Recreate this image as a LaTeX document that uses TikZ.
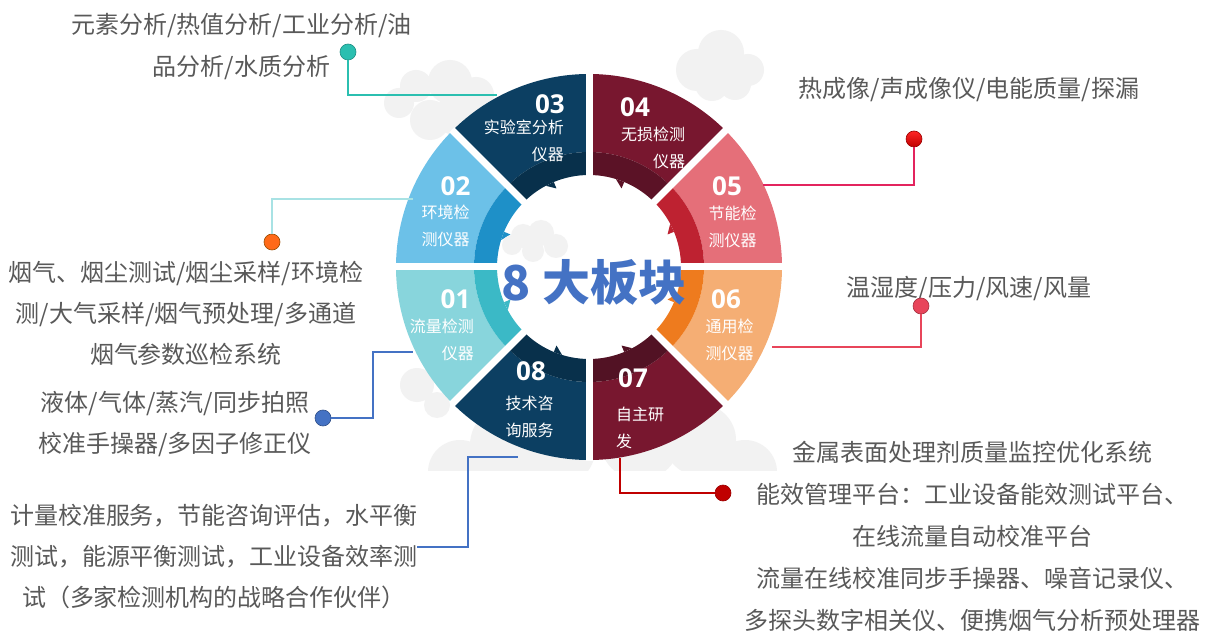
\documentclass[tikz,border=0pt]{standalone}
\usepackage{fontspec}
\setmainfont{Noto Sans CJK SC}
\newfontfamily\numfont{Open Sans}
\usepackage{tikz}
\definecolor{txtgray}{HTML}{595959}
\definecolor{cloudgray}{HTML}{F2F2F2}
\definecolor{ctrblue}{HTML}{4472C4}
\definecolor{c01o}{HTML}{88D5DC}\definecolor{c01i}{HTML}{3BB9C6}
\definecolor{c02o}{HTML}{6CC1E8}\definecolor{c02i}{HTML}{1E90C8}
\definecolor{c03o}{HTML}{0C3F62}\definecolor{c03i}{HTML}{08304B}
\definecolor{c04o}{HTML}{78172F}\definecolor{c04i}{HTML}{5B1226}
\definecolor{c05o}{HTML}{E56F79}\definecolor{c05i}{HTML}{BE2231}
\definecolor{c06o}{HTML}{F5AE74}\definecolor{c06i}{HTML}{EE7B1E}
\definecolor{c07o}{HTML}{78172F}\definecolor{c07i}{HTML}{521224}
\definecolor{c08o}{HTML}{0C3F62}\definecolor{c08i}{HTML}{08304B}
\definecolor{lnteal}{HTML}{2BBFB0}
\definecolor{lnpale}{HTML}{A8E2E4}
\definecolor{lnblue}{HTML}{4472C4}
\definecolor{lncrim}{HTML}{E3245E}
\definecolor{lnrose}{HTML}{E8455A}
\definecolor{lnred}{HTML}{C00000}
\tikzset{
  seglab/.style={text=white, inner sep=0pt, font=\fontsize{16}{27}\selectfont},
  segnum/.style={text=white, inner sep=0pt, font=\numfont\bfseries\fontsize{26}{26}\selectfont},
  desc/.style={text=txtgray, inner sep=0pt, align=center},
  bullet/.style={circle, minimum size=16pt, inner sep=0pt, line width=0.6pt},
  leader/.style={line width=1.1pt},
  cloudfill/.style={fill=cloudgray}
}
\begin{document}
\begin{tikzpicture}[x=1pt, y=-1pt]
\useasboundingbox (0,0) rectangle (1213,644);
\fill[white] (0,0) rectangle (1213,644);
% ---- background clouds ----
\foreach \cx/\cy/\r in {721/53/23, 697/70/21, 748/70/16, 712/84/17, 735/84/16,
  450/82/22, 416/86/16, 399/103/15, 430/120/20, 476/95/18, 455/115/20,
  417/385/17, 437/405/13}{
  \fill[cloudfill] (\cx,\cy) circle[radius=\r];}
\begin{scope}
  \clip (400,380) rectangle (800,470);
  \foreach \cx/\cy/\r in {460/472/32, 510/445/40, 560/450/35, 640/440/40,
    700/440/36, 745/472/32}{
    \fill[cloudfill] (\cx,\cy) circle[radius=\r];}
\end{scope}
% ---- ring of eight segments ----
\begin{scope}[shift={(589,267)}]
  \foreach \a/\co/\ci in {0/c06o/c06i, 45/c07o/c07i, 90/c08o/c08i, 135/c01o/c01i,
    180/c02o/c02i, 225/c03o/c03i, 270/c04o/c04i, 315/c05o/c05i}{
    \fill[\co] (\a:115) arc[start angle=\a, end angle=\a+45, radius=115]
      -- (\a+45:193) arc[start angle=\a+45, end angle=\a, radius=193] -- cycle;
    \fill[\ci] (\a:92) arc[start angle=\a, end angle=\a+45, radius=92]
      -- (\a+45:115) arc[start angle=\a+45, end angle=\a, radius=115] -- cycle;
    \fill[\ci] (\a+17:92) -- (\a+22.5:85) -- (\a+22.5:92) -- cycle;
  }
  \foreach \a in {0,45,...,315}{
    \draw[white, line width=7pt] (\a:80) -- (\a:194);}
  % ---- cloud in the middle ----
  \foreach \cx/\cy/\r in {-66/-31/12, -48/-34/13, -33/-21/12, -77/-22/10, -56/-16/11}{
    \fill[cloudfill] (\cx,\cy) circle[radius=\r];}
\end{scope}
\node[text=ctrblue, inner sep=0pt, font=\bfseries\fontsize{48}{48}\selectfont]
  (ctr) at (594,282) {8 大板块};
% ---- segment numbers and names ----
\foreach \nm/\anc/\x/\y in {03/east/565/104, 04/west/620/107, 02/center/455.5/186,
  05/center/727/186, 01/center/455.5/299, 06/center/726/299, 08/center/531/371,
  07/center/633/378}{
  \node[segnum, anchor=\anc] (n\nm) at (\x,\y) {\nm};}
\foreach \nm/\anc/\al/\x/\y/\t in {
  03/east/right/564/141/{实验室分析\\仪器},
  04/west/right/621/148/{无损检测\\仪器},
  02/center/center/445.5/226/{环境检\\测仪器},
  05/center/center/732.5/227/{节能检\\测仪器},
  01/east/right/474/340/{流量检测\\仪器},
  06/center/center/729.5/340/{通用检\\测仪器},
  08/center/center/529.5/417/{技术咨\\询服务},
  07/west/left/616/428/{自主研\\发}}{
  \node[seglab, anchor=\anc, align=\al] (l\nm) at (\x,\y) {\t};}
% ---- descriptions ----
\node[desc, font=\fontsize{24}{42}\selectfont] (t03) at (241.5,47)
  {元素分析/热值分析/工业分析/油\\品分析/水质分析};
\node[desc, font=\fontsize{24}{41}\selectfont] (t02) at (186,313)
  {烟气、烟尘测试/烟尘采样/环境检\\测/大气采样/烟气预处理/多通道\\烟气参数巡检系统};
\node[desc, font=\fontsize{24}{41}\selectfont] (t01) at (175,424)
  {液体/气体/蒸汽/同步拍照\\校准手操器/多因子修正仪};
\node[desc, font=\fontsize{24}{41}\selectfont] (t08) at (214,556)
  {计量校准服务，节能咨询评估，水平衡\\测试，能源平衡测试，工业设备效率测\\试（多家检测机构的战略合作伙伴）};
\node[desc, font=\fontsize{24}{41}\selectfont] (t04) at (969,90)
  {热成像/声成像仪/电能质量/探漏};
\node[desc, font=\fontsize{24}{41}\selectfont] (t06) at (969,289)
  {温湿度/压力/风速/风量};
\node[desc, font=\fontsize{24}{42}\selectfont] (t07) at (972,536)
  {金属表面处理剂质量监控优化系统\\能效管理平台：工业设备能效测试平台、\\在线流量自动校准平台\\流量在线校准同步手操器、噪音记录仪、\\多探头数字相关仪、便携烟气分析预处理器};
% ---- bullets ----
\node[bullet, fill=lnteal, draw=lnteal!75!black] (d03) at (348,52) {};
\node[bullet, fill=orange!70!red!90, draw=orange!60!black] (d02) at (272,242) {};
\node[bullet, fill=lnblue, draw=lnblue!70!black] (d01) at (323,418) {};
\node[bullet, top color=red!85!white, bottom color=red!75!black, draw=red!60!black] (d04) at (914,139) {};
\node[bullet, fill=lnrose, draw=lnrose!70!black] (d06) at (921,306) {};
\node[bullet, fill=lnred, draw=lnred!80!black] (d07) at (723,493) {};
% ---- leader lines ----
\coordinate (e03) at (497,95);
\coordinate (e02) at (413,199);
\coordinate (k01) at (373,352);
\coordinate (e01) at (413,352);
\coordinate (s08) at (417,547);
\coordinate (k08) at (468,457);
\coordinate (e08) at (518,457);
\coordinate (e04) at (763,185);
\coordinate (e06) at (772,347);
\coordinate (e07) at (620,458);
\draw[leader, lnteal] (d03) |- (e03);
\draw[leader, lnpale] (d02) |- (e02);
\draw[leader, lnblue] (d01) -| (k01) -- (e01);
\draw[leader, lnblue] (s08) -| (k08) -- (e08);
\draw[leader, lncrim] (d04) |- (e04);
\draw[leader, lnrose] (d06) |- (e06);
\draw[leader, lnred] (e07) |- (d07);
\end{tikzpicture}
\end{document}
